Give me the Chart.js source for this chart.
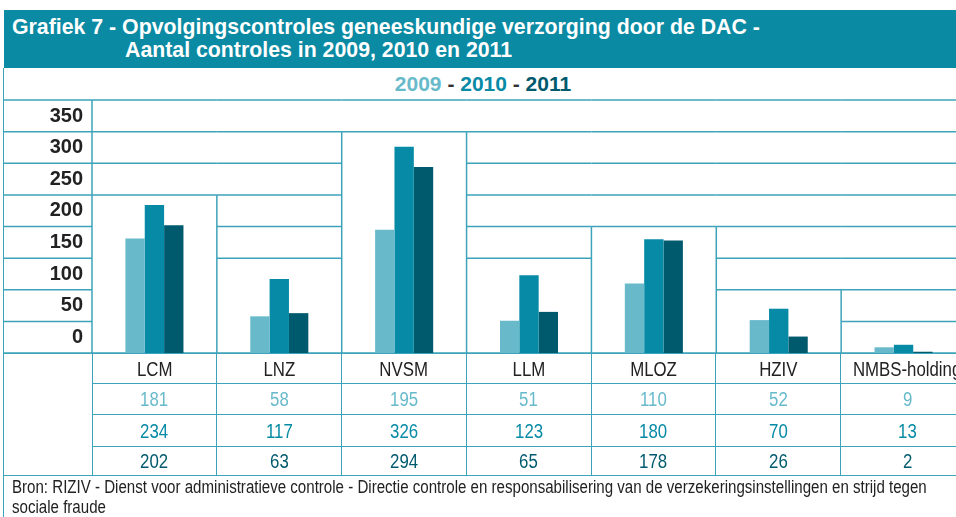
<!DOCTYPE html>
<html>
<head>
<meta charset="utf-8">
<script src="https://cdn.jsdelivr.net/npm/chart.js@4.4.1/dist/chart.umd.min.js"></script>
<style>
  html, body { margin: 0; padding: 0; background: #fff; overflow: hidden; }
  #wrap { position: relative; width: 980px; height: 517px; font-family: "Liberation Sans", Arial, sans-serif; }
  #title {
    position: absolute; left: 4px; top: 10px; width: 976px; height: 58px;
    background: #0b8aa3; color: #fff; font-weight: bold; font-size: 21.3px; line-height: 24px;
  }
  #title .l1 { position: absolute; left: 8px; top: 5px; white-space: nowrap; }
  #title .l2 { position: absolute; left: 121px; top: 28px; white-space: nowrap; }
  #sub {
    position: absolute; left: 4px; top: 68px; width: 958px; height: 31px;
    text-align: center; font-weight: bold; font-size: 21px; line-height: 32px; color: #333;
  }
  #leftborder { position: absolute; left: 3px; top: 68px; width: 0; height: 460px; border-left: 1.5px solid #3da3ba; }
  #cv { position: absolute; left: 0; top: 79px; }
  #tbl {
    position: absolute; left: 4px; top: 353px; border-collapse: collapse; table-layout: fixed;
    font-family: "Liberation Sans", Arial, sans-serif; font-size: 20.5px;
  }
  #tbl td { border: 1.5px solid #3da3ba; text-align: center; padding: 0; white-space: nowrap; overflow: visible; }
  #tbl td span { display: inline-block; transform: scaleX(0.82); }
  #tbl td.blank { border-left: none; }
  #foot {
    position: absolute; left: 12px; top: 477px; width: 1090px; color: #222;
    transform: scaleX(0.862); transform-origin: left top;
    font-family: "Liberation Sans", Arial, sans-serif; font-size: 17.5px; line-height: 20px;
  }
</style>
</head>
<body>
<div id="wrap">
  <div id="title">
    <div class="l1">Grafiek 7 - Opvolgingscontroles geneeskundige verzorging door de DAC -</div>
    <div class="l2">Aantal controles in 2009, 2010 en 2011</div>
  </div>
  <div id="sub"></div>
  <div id="leftborder"></div>
  <canvas id="cv" width="966" height="295"></canvas>
  <table id="tbl"></table>
  <div id="foot">Bron: RIZIV - Dienst voor administratieve controle - Directie controle en responsabilisering van de verzekeringsinstellingen en strijd tegen sociale fraude</div>
</div>
<script>
// data
const categories = ['LCM', 'LNZ', 'NVSM', 'LLM', 'MLOZ', 'HZIV', 'NMBS-holding'];
const years = ['2009', '2010', '2011'];
const values2009 = [181, 58, 195, 51, 110, 52, 9];
const values2010 = [234, 117, 326, 123, 180, 70, 13];
const values2011 = [202, 63, 294, 65, 178, 26, 2];
const yTickLabels = ['0', '50', '100', '150', '200', '250', '300', '350'];

const colors = ['#68bacb', '#078aa6', '#005a6d'];
const series = [values2009, values2010, values2011];
const lineColor = '#3da3ba';

// subtitle: 2009 - 2010 - 2011
document.getElementById('sub').innerHTML = years
  .map((y, i) => `<span style="color:${colors[i]}">${y}</span>`)
  .join(' - ');

// data table under the chart
const colW = 124.8;
const rowH = [30, 31, 32, 29];
let html = `<colgroup><col style="width:88px">${categories.map(() => `<col style="width:${colW}px">`).join('')}</colgroup>`;
html += `<tr style="height:${rowH[0]}px"><td class="blank" rowspan="4"></td>${categories.map(c => `<td style="color:#222"><span>${c}</span></td>`).join('')}</tr>`;
series.forEach((vals, s) => {
  html += `<tr style="height:${rowH[s + 1]}px">${vals.map(v => `<td style="color:${colors[s]}"><span>${v}</span></td>`).join('')}</tr>`;
});
document.getElementById('tbl').innerHTML = html;

// the grid is drawn like a table: lines only above each column's "box"
const gridPlugin = {
  id: 'boxGrid',
  beforeDatasetsDraw(chart) {
    const { ctx, chartArea: ca, scales: { x, y } } = chart;
    const n = categories.length;
    const cw = (ca.right - ca.left) / n;
    const boxTop = categories.map((_, i) => Math.ceil(Math.max(...series.map(s => s[i])) / 50) * 50);
    ctx.save();
    ctx.strokeStyle = lineColor;
    ctx.lineWidth = 1.5;
    const hline = (x0, x1, yy) => { ctx.beginPath(); ctx.moveTo(x0, yy); ctx.lineTo(x1, yy); ctx.stroke(); };
    const vline = (xx, y0, y1) => { ctx.beginPath(); ctx.moveTo(xx, y0); ctx.lineTo(xx, y1); ctx.stroke(); };
    for (let v = 0; v <= 400; v += 50) {
      const py = y.getPixelForValue(v);
      hline(4, ca.left, py);
      for (let i = 0; i < n; i++) {
        if (v === 0 || v === 400 || v >= boxTop[i]) hline(ca.left + i * cw, ca.left + (i + 1) * cw, py);
      }
    }
    vline(ca.left, ca.top, ca.bottom);
    for (let i = 0; i < n - 1; i++) {
      const top = Math.max(boxTop[i], boxTop[i + 1]);
      vline(ca.left + (i + 1) * cw, y.getPixelForValue(top), ca.bottom);
    }
    ctx.restore();
  }
};

new Chart(document.getElementById('cv'), {
  type: 'bar',
  data: {
    labels: categories,
    datasets: series.map((vals, i) => ({
      label: years[i],
      data: vals,
      backgroundColor: colors[i],
      borderWidth: 0,
      barPercentage: 1,
      categoryPercentage: 0.465
    }))
  },
  options: {
    responsive: false,
    animation: false,
    layout: { padding: { top: 20, bottom: 20, left: 0, right: 0 } },
    plugins: { legend: { display: false }, tooltip: { enabled: false } },
    scales: {
      x: { display: false },
      y: {
        min: 0, max: 400,
        border: { display: false },
        grid: { display: false, drawTicks: false },
        afterFit(scale) { scale.width = 92; },
        ticks: {
          stepSize: 50,
          padding: 9,
          labelOffset: 16,
          color: '#222',
          font: { family: 'Liberation Sans', weight: 'bold', size: 20 },
          callback: (v, i) => (i === 0 ? '' : yTickLabels[i - 1])
        }
      }
    }
  },
  plugins: [gridPlugin]
});
</script>
</body>
</html>
